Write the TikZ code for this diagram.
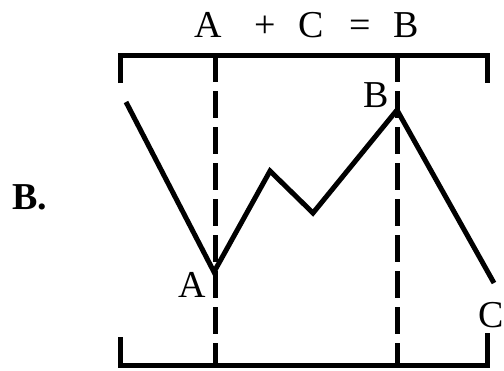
\documentclass[tikz,border=0pt]{standalone}
\usepackage{fontspec}
\setmainfont{Liberation Serif}
\begin{document}
\begin{tikzpicture}[x=1pt,y=-1pt,
  solidline/.style={line width=5pt, line cap=butt, line join=miter},
  dashline/.style={line width=5pt, dash pattern=on 27pt off 9pt},
  lbl/.style={font=\fontsize{38}{38}\selectfont, inner sep=0pt}]
\useasboundingbox (0,0) rectangle (504,370);
% coordinates
\coordinate (TL) at (120,83);
\coordinate (TLc) at (120,55);
\coordinate (TRc) at (487,55);
\coordinate (TR) at (487,83);
\coordinate (BL) at (120,337);
\coordinate (BLc) at (120,365);
\coordinate (BRc) at (487,365);
\coordinate (BR) at (487,333);
\coordinate (DAt) at (215,55);
\coordinate (DAb) at (215,365);
\coordinate (DBt) at (397,55);
\coordinate (DBb) at (397,365);
\coordinate (P0) at (126,102);
\coordinate (PA) at (214,272);
\coordinate (P2) at (270,171);
\coordinate (P3) at (313,213);
\coordinate (PB) at (397,110);
\coordinate (PC) at (494,283);
% brackets
\draw[solidline] (TL) -- (TLc) -- (TRc) -- (TR);
\draw[solidline] (BL) -- (BLc) -- (BRc) -- (BR);
% dashed verticals
\draw[dashline] (DAt) -- (DAb);
\draw[dashline] (DBt) -- (DBb);
% zigzag
\draw[solidline] (P0) -- (PA) -- (P2) -- (P3) -- (PB) -- (PC);
% title
\node[lbl, anchor=base] (t1) at (208,37) {A};
\node[lbl, anchor=base] (t2) at (265,37) {+};
\node[lbl, anchor=base] (t3) at (311,37) {C};
\node[lbl, anchor=base] (t4) at (360,37) {=};
\node[lbl, anchor=base] (t5) at (406,37) {B};
% vertex labels
\node[lbl, anchor=base west] (la) at (178,297) {A};
\node[lbl, anchor=base west] (lb) at (363,107) {B};
\node[lbl, anchor=base west] (lc) at (478,327) {C};
\node[font=\fontsize{38}{38}\selectfont\bfseries, inner sep=0pt, anchor=base west] (lbd) at (12,209) {B.};
\end{tikzpicture}
\end{document}
